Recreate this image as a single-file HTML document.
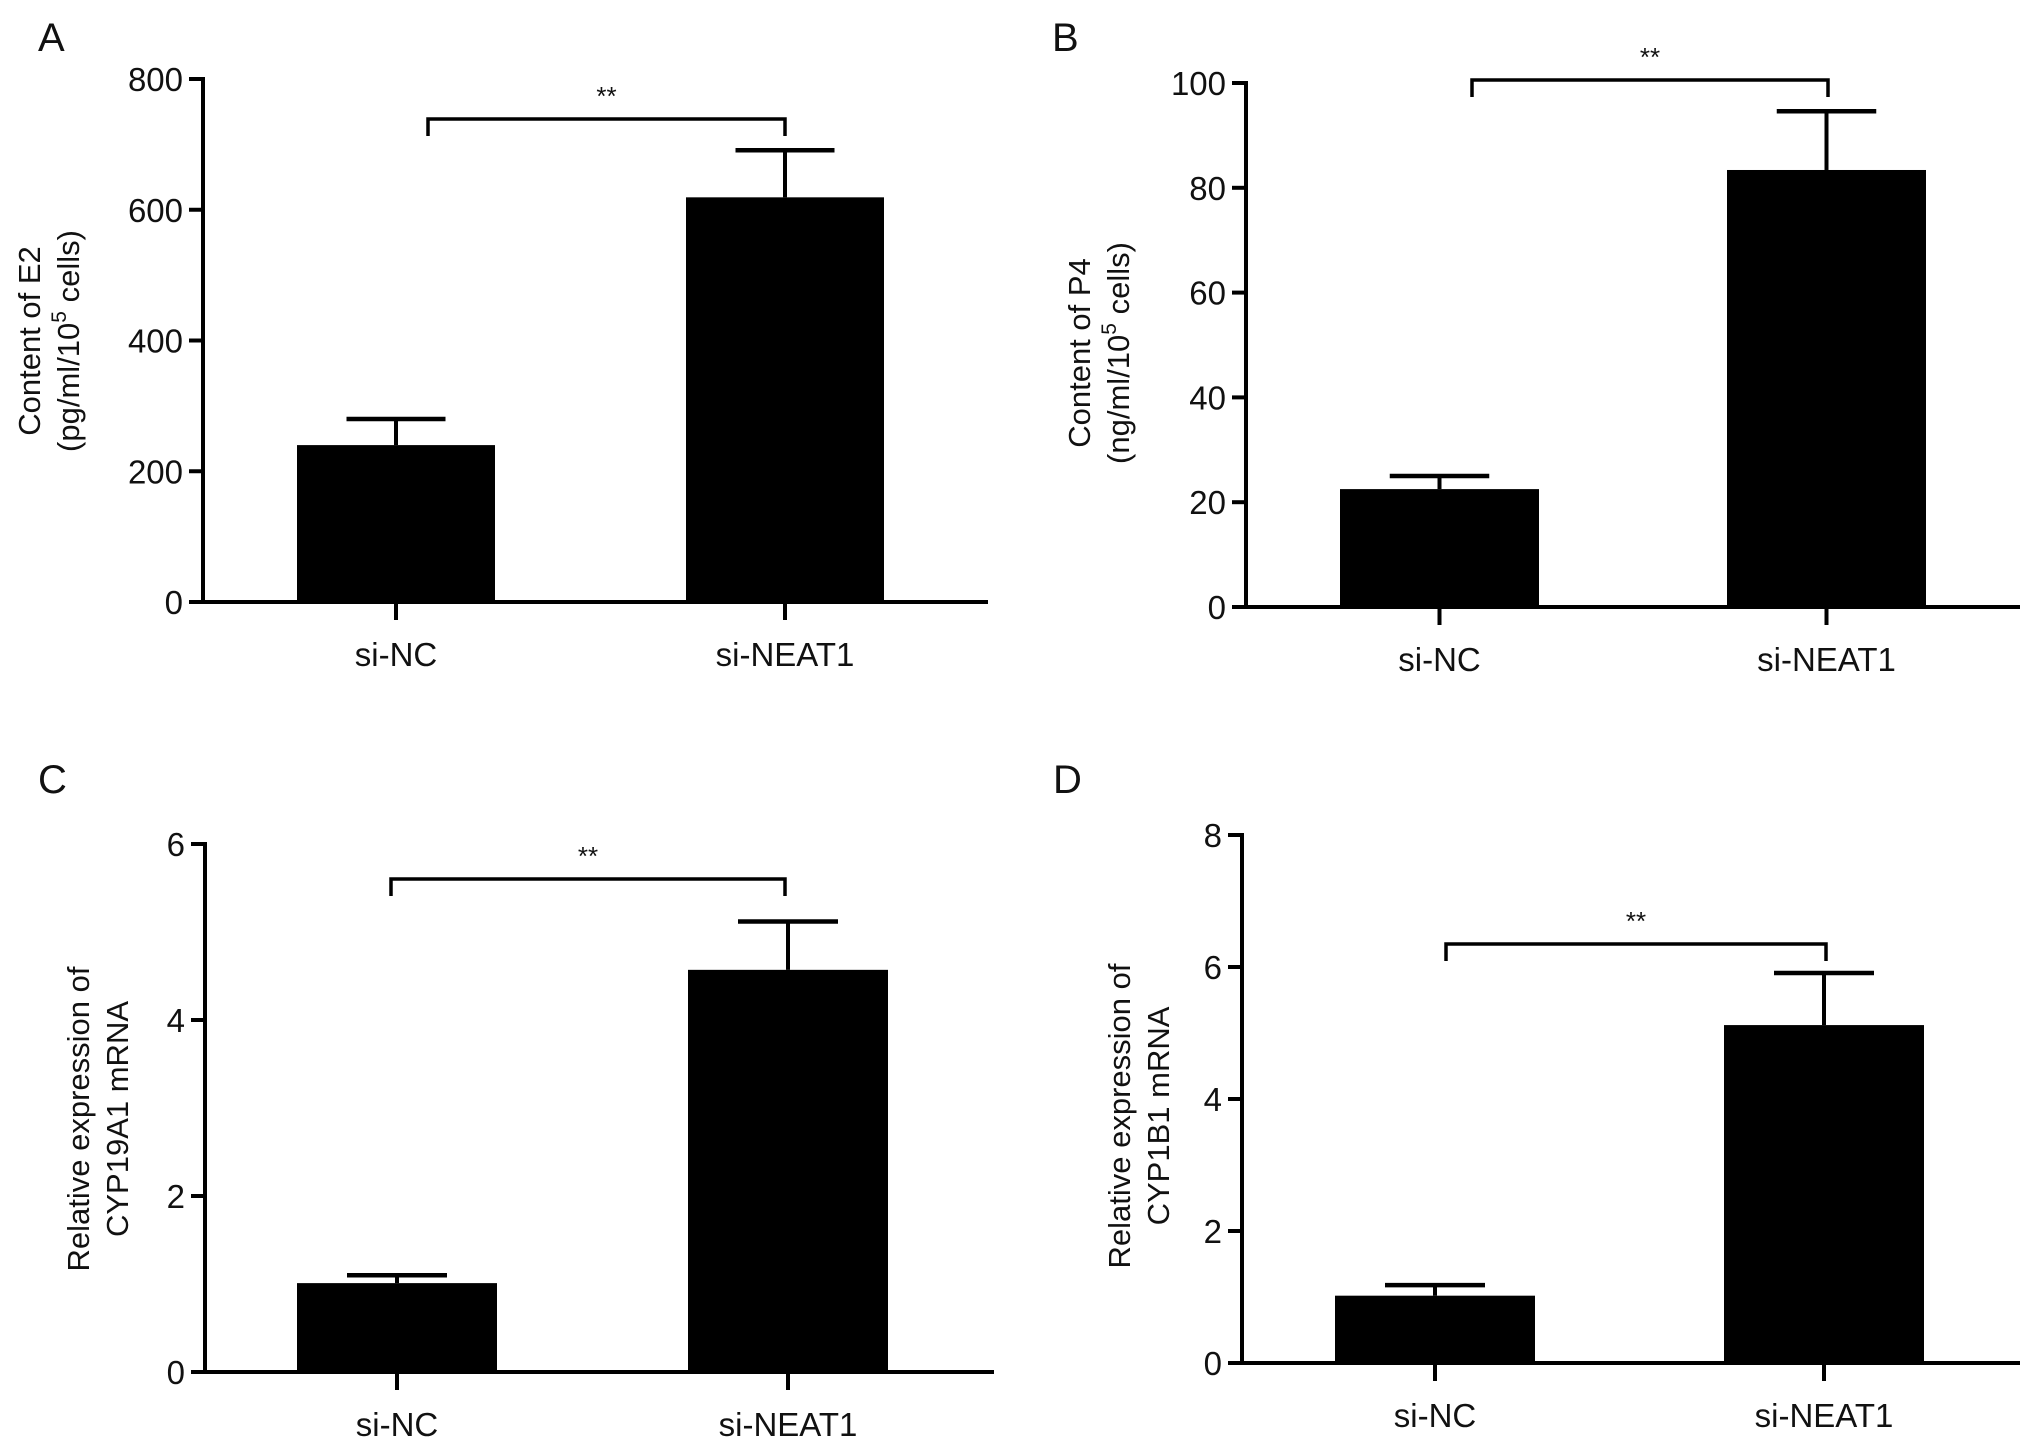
<!DOCTYPE html>
<html><head><meta charset="utf-8"><style>
html,body{margin:0;padding:0;background:#fff}
svg{display:block}
text{font-family:"Liberation Sans",sans-serif;fill:#111}
</style></head><body>
<svg id="fig" width="2032" height="1438" viewBox="0 0 2032 1438" xmlns="http://www.w3.org/2000/svg"></svg>
<script>
const categories = ["si-NC", "si-NEAT1"];
const valuesA = [240, 619];
const errorsA = [280, 691];
const ticksA = [0, 200, 400, 600, 800];
const valuesB = [22.5, 83.4];
const errorsB = [25, 94.6];
const ticksB = [0, 20, 40, 60, 80, 100];
const valuesC = [1.01, 4.57];
const errorsC = [1.10, 5.12];
const ticksC = [0, 2, 4, 6];
const valuesD = [1.02, 5.12];
const errorsD = [1.18, 5.91];
const ticksD = [0, 2, 4, 6, 8];

const NS = "http://www.w3.org/2000/svg";
const svg = document.getElementById("fig");
function mk(tag, attrs, parent, txt) {
  const e = document.createElementNS(NS, tag);
  for (const k in attrs) e.setAttribute(k, attrs[k]);
  if (txt !== undefined) e.textContent = txt;
  parent.appendChild(e);
  return e;
}
function panel(p) {
  const g = mk("g", {}, svg);
  
  
  const ymax = p.ticks[p.ticks.length - 1];
  const ys = v => p.y0 - (v / ymax) * (p.y0 - p.yTop);
  const lt = mk("text", {x: p.lx, y: p.ly, "font-size": 40}, g, p.letter);
  
  
  const ya = mk("line", {x1: p.ax, y1: p.y0 + 2, x2: p.ax, y2: ys(ymax) - 2, stroke: "#000", "stroke-width": 4}, g);
  
  
  p.ticks.forEach(t => {
    const y = ys(t);
    const tk = mk("line", {x1: p.ax - 14, y1: y, x2: p.ax, y2: y, stroke: "#000", "stroke-width": 4}, g);
    
    
    const tl = mk("text", {x: p.ax - 20, y: y + 12, "font-size": 33, "text-anchor": "end"}, g, String(t));
    
    
  });
  const xa = mk("line", {x1: p.ax - 2, y1: p.y0, x2: p.xEnd, y2: p.y0, stroke: "#000", "stroke-width": 4}, g);
  
  
  categories.forEach((c, i) => {
    const x = p.barX[i], w = p.barW;
    const cx = x + w / 2;
    const top = ys(p.vals[i]);
    const bar = mk("rect", {x: x, y: top, width: w, height: p.y0 - top, fill: "#000"}, g);
    
    
    const et = ys(p.errs[i]);
    const ev = mk("line", {x1: cx, y1: top, x2: cx, y2: et, stroke: "#000", "stroke-width": 4}, g);
    
    
    const ec = mk("line", {x1: cx - w / 4, y1: et, x2: cx + w / 4, y2: et, stroke: "#000", "stroke-width": 4.5}, g);
    
    
    const xt = mk("line", {x1: cx, y1: p.y0, x2: cx, y2: p.y0 + 18, stroke: "#000", "stroke-width": 4}, g);
    
    
    const xl = mk("text", {x: cx, y: p.y0 + 64, "font-size": 33, "text-anchor": "middle"}, g, c);
    
    
  });
  const br = mk("path", {d: `M${p.brX[0]},${p.brY + 17} V${p.brY} H${p.brX[1]} V${p.brY + 17}`, fill: "none", stroke: "#000", "stroke-width": 3.5}, g);
  
  
  const st = mk("text", {x: (p.brX[0] + p.brX[1]) / 2, y: p.brY - 14, "font-size": 26, "text-anchor": "middle"}, g, "**");
  
  
  const tt = mk("text", {transform: `translate(${p.tx},${p.ty}) rotate(-90)`, "font-size": 31, "text-anchor": "middle"}, g);
  
  
  mk("tspan", {x: 0, y: 0}, tt, p.t1);
  const t2 = mk("tspan", {x: 0, y: 39}, tt);
  t2.appendChild(document.createTextNode(p.t2a));
  if (p.sup) {
    mk("tspan", {dy: -13, "font-size": 21}, t2, p.sup);
    mk("tspan", {dy: 13}, t2, p.t2b);
  }
}
panel({letter: "A", lx: 38, ly: 51, ax: 203, y0: 602, yTop: 79, xEnd: 988, ticks: ticksA, vals: valuesA, errs: errorsA,
  barX: [297, 686], barW: 198, brX: [428, 785], brY: 119, tx: 40, ty: 341,
  t1: "Content of E2", t2a: "(pg/ml/10", sup: "5", t2b: " cells)"});
panel({letter: "B", lx: 1052, ly: 51, ax: 1246, y0: 607, yTop: 83, xEnd: 2020, ticks: ticksB, vals: valuesB, errs: errorsB,
  barX: [1340, 1727], barW: 199, brX: [1472, 1828], brY: 80, tx: 1090, ty: 353,
  t1: "Content of P4", t2a: "(ng/ml/10", sup: "5", t2b: " cells)"});
panel({letter: "C", lx: 38, ly: 793, ax: 205, y0: 1372, yTop: 844, xEnd: 994, ticks: ticksC, vals: valuesC, errs: errorsC,
  barX: [297, 688], barW: 200, brX: [391, 785], brY: 879, tx: 89, ty: 1119,
  t1: "Relative expression of", t2a: "CYP19A1 mRNA"});
panel({letter: "D", lx: 1053, ly: 793, ax: 1242, y0: 1363, yTop: 835, xEnd: 2020, ticks: ticksD, vals: valuesD, errs: errorsD,
  barX: [1335, 1724], barW: 200, brX: [1446, 1826], brY: 944, tx: 1130, ty: 1116,
  t1: "Relative expression of", t2a: "CYP1B1 mRNA"});
</script>
</body></html>
